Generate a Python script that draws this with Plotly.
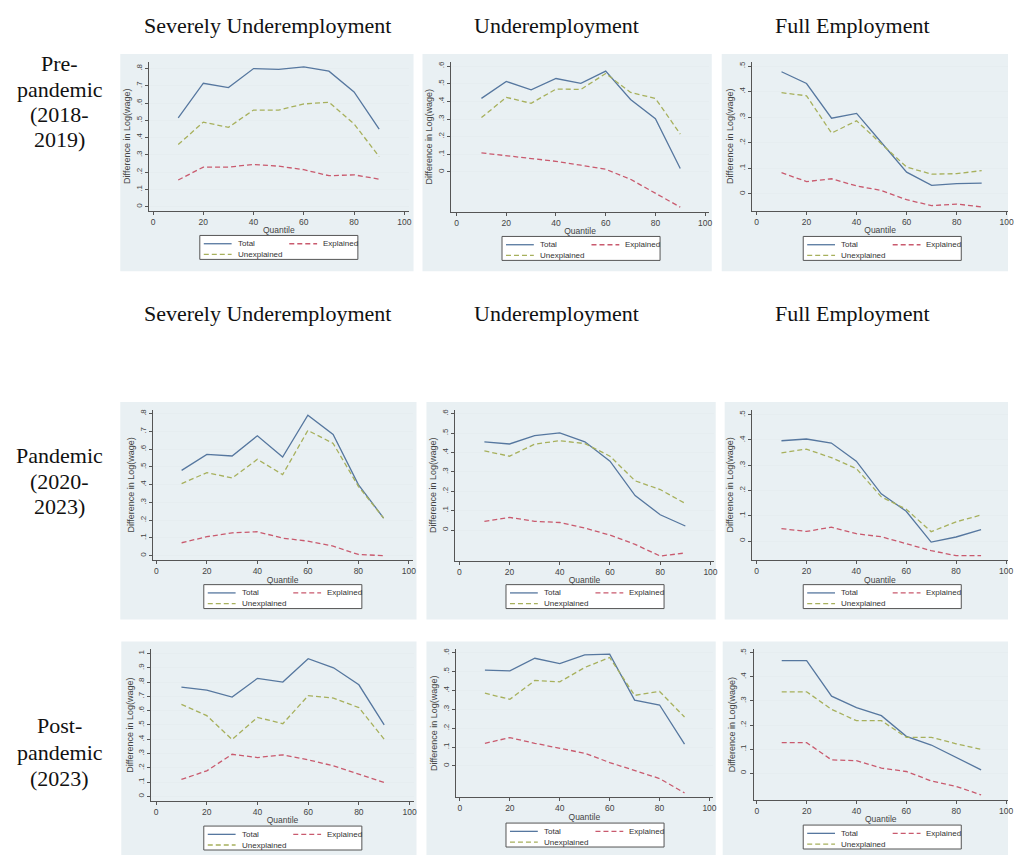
import plotly.graph_objects as go

# ---------------- data ----------------
quantiles = [10, 20, 30, 40, 50, 60, 70, 80, 90]

pre_su_total = [0.515, 0.715, 0.690, 0.800, 0.795, 0.810, 0.785, 0.665, 0.450]
pre_su_expl = [0.155, 0.230, 0.230, 0.245, 0.235, 0.215, 0.180, 0.185, 0.160]
pre_su_unexpl = [0.360, 0.490, 0.460, 0.560, 0.560, 0.595, 0.605, 0.480, 0.290]

pre_u_total = [0.417, 0.513, 0.466, 0.530, 0.502, 0.572, 0.411, 0.302, 0.019]
pre_u_expl = [0.108, 0.092, 0.079, 0.060, 0.038, 0.015, -0.042, -0.121, -0.200]
pre_u_unexpl = [0.308, 0.423, 0.389, 0.470, 0.468, 0.558, 0.451, 0.417, 0.215]

pre_fe_total = [0.478, 0.432, 0.296, 0.315, 0.200, 0.085, 0.033, 0.040, 0.042]
pre_fe_expl = [0.083, 0.048, 0.059, 0.031, 0.013, -0.023, -0.046, -0.040, -0.051]
pre_fe_unexpl = [0.396, 0.384, 0.238, 0.286, 0.195, 0.105, 0.077, 0.079, 0.091]

pan_su_total = [0.481, 0.571, 0.562, 0.676, 0.556, 0.792, 0.683, 0.401, 0.212]
pan_su_expl = [0.073, 0.107, 0.129, 0.135, 0.099, 0.082, 0.054, 0.007, 0.000]
pan_su_unexpl = [0.406, 0.468, 0.438, 0.543, 0.457, 0.706, 0.633, 0.391, 0.212]

pan_u_total = [0.455, 0.444, 0.487, 0.501, 0.455, 0.355, 0.178, 0.079, 0.021]
pan_u_expl = [0.045, 0.065, 0.045, 0.039, 0.010, -0.026, -0.074, -0.134, -0.118]
pan_u_unexpl = [0.408, 0.381, 0.443, 0.461, 0.446, 0.381, 0.254, 0.209, 0.137]

pan_fe_total = [0.397, 0.404, 0.388, 0.316, 0.187, 0.118, -0.004, 0.016, 0.045]
pan_fe_expl = [0.049, 0.038, 0.055, 0.029, 0.017, -0.011, -0.038, -0.058, -0.058]
pan_fe_unexpl = [0.349, 0.364, 0.330, 0.287, 0.175, 0.126, 0.037, 0.076, 0.103]

post_su_total = [0.765, 0.744, 0.695, 0.826, 0.800, 0.963, 0.900, 0.781, 0.500]
post_su_expl = [0.119, 0.179, 0.295, 0.272, 0.291, 0.256, 0.214, 0.158, 0.098]
post_su_unexpl = [0.644, 0.565, 0.398, 0.553, 0.509, 0.705, 0.688, 0.621, 0.400]

post_u_total = [0.508, 0.504, 0.571, 0.543, 0.589, 0.593, 0.349, 0.323, 0.115]
post_u_expl = [0.120, 0.150, 0.120, 0.093, 0.067, 0.018, -0.026, -0.067, -0.143]
post_u_unexpl = [0.386, 0.353, 0.453, 0.446, 0.522, 0.575, 0.374, 0.395, 0.259]

post_fe_total = [0.467, 0.467, 0.320, 0.272, 0.239, 0.153, 0.117, 0.065, 0.014]
post_fe_expl = [0.127, 0.127, 0.055, 0.052, 0.021, 0.007, -0.032, -0.055, -0.090]
post_fe_unexpl = [0.338, 0.338, 0.265, 0.218, 0.218, 0.149, 0.149, 0.122, 0.099]

column_titles = ["Severely Underemployment", "Underemployment", "Full Employment"]
row_labels = [["Pre-", "pandemic", "(2018-", "2019)"],
              ["Pandemic", "(2020-", "2023)"],
              ["Post-", "pandemic", "(2023)"]]
series_names = ["Total", "Explained", "Unexplained"]
x_ticks = [0, 20, 40, 60, 80, 100]
y_tick_max = [0.8, 0.6, 0.5, 0.8, 0.6, 0.5, 1.0, 0.6, 0.5]

panel_data = [
    (pre_su_total, pre_su_expl, pre_su_unexpl),
    (pre_u_total, pre_u_expl, pre_u_unexpl),
    (pre_fe_total, pre_fe_expl, pre_fe_unexpl),
    (pan_su_total, pan_su_expl, pan_su_unexpl),
    (pan_u_total, pan_u_expl, pan_u_unexpl),
    (pan_fe_total, pan_fe_expl, pan_fe_unexpl),
    (post_su_total, post_su_expl, post_su_unexpl),
    (post_u_total, post_u_expl, post_u_unexpl),
    (post_fe_total, post_fe_expl, post_fe_unexpl),
]

# ---------------- geometry (pixels) ----------------
W, H = 1014, 855
geom = [
    dict(box=(150, 411, 60, 209), xc=(154, 406.7), yc=(205.3, 66.7), bg=(121, 416, 52, 270), leg=(201, 234)),
    dict(box=(454, 713, 60, 210), xc=(459.3, 709.3), yc=(170.3, 64.3), bg=(425, 716, 52, 270), leg=(505, 235)),
    dict(box=(756.7, 1014, 60, 209), xc=(761, 1012.7), yc=(192.3, 64.3), bg=(726, 1014, 52, 270), leg=(808, 235)),
    dict(box=(153.7, 415, 408.7, 559.3), xc=(157.3, 411.3), yc=(555, 412.7), bg=(121, 419, 401, 619), leg=(205, 584)),
    dict(box=(458, 718, 408.7, 560), xc=(462, 714.7), yc=(529.3, 412.7), bg=(429, 720, 401, 619), leg=(509, 584)),
    dict(box=(756.3, 1014, 408.7, 559.3), xc=(761, 1012), yc=(540.3, 413.7), bg=(729, 1014, 401, 619), leg=(808, 584)),
    dict(box=(152.3, 416, 649, 800.7), xc=(157, 412), yc=(796.3, 653), bg=(122, 419, 641, 855), leg=(205, 826)),
    dict(box=(458.7, 717, 649, 797), xc=(462.7, 713.7), yc=(765.7, 652.3), bg=(429, 720, 641, 855), leg=(509, 823)),
    dict(box=(758, 1014, 649, 799.7), xc=(761.3, 1012), yc=(773, 652.3), bg=(727, 1014, 641, 855), leg=(808, 825)),
]


def fx(px):
    return px / W


def fy(py):
    return 1 - py / H


colors = {"Total": "#56779f", "Explained": "#c95a6e", "Unexplained": "#a7b05c"}
dashes = {"Total": "solid", "Explained": "5px,3px", "Unexplained": "5px,3px"}
AX = "#555555"
SANS = "Liberation Sans, Arial, sans-serif"
SERIF = "Liberation Serif, Times New Roman, serif"


def fmt(v):
    if abs(v) < 1e-9:
        return "0"
    if abs(v - 1) < 1e-9:
        return "1"
    return ("%.1f" % v).lstrip("0")


fig = go.Figure()
layout = dict(width=W, height=H, margin=dict(l=0, r=0, t=0, b=0),
              paper_bgcolor="white", plot_bgcolor="white", showlegend=False)
shapes = []
annotations = []

for i, (g, data) in enumerate(zip(geom, panel_data)):
    n = "" if i == 0 else str(i + 1)
    x0, x1, y0, y1 = g["box"]
    xp0, xp100 = g["xc"]
    ypz, ypt = g["yc"]
    ytop = y_tick_max[i]
    ux = 100 / (xp100 - xp0)
    xr = [0 - (xp0 - x0) * ux, 100 + (x1 - xp100) * ux]
    uy = ytop / (ypz - ypt)
    yr = [0 - (y1 - ypz) * uy, ytop + (ypt - y0) * uy]
    nt = int(round(ytop * 10))
    yticks = [k / 10 for k in range(nt + 1)]

    bx0, bx1, by0, by1 = g["bg"]
    shapes.append(dict(type="rect", xref="paper", yref="paper", layer="below",
                       x0=fx(bx0), x1=fx(bx1), y0=fy(by1), y1=fy(by0),
                       fillcolor="#e9f0f3", line=dict(width=0)))

    for name, vals in zip(series_names, data):
        fig.add_trace(go.Scatter(x=quantiles, y=vals, mode="lines", name=name,
                                 xaxis="x" + n, yaxis="y" + n, showlegend=False,
                                 line=dict(color=colors[name], width=1.3, dash=dashes[name])))

    layout["xaxis" + n] = dict(
        domain=[fx(x0), fx(x1)], anchor="y" + n, range=xr,
        tickvals=x_ticks, ticks="outside", ticklen=3, tickcolor=AX, tickwidth=1,
        showline=True, linecolor=AX, linewidth=1, showgrid=False, zeroline=False,
        ticklabeloverflow="allow",
        tickfont=dict(family=SANS, size=8.5, color="#444"),
        title=dict(text="Quantile", font=dict(family=SANS, size=8.5, color="#444"), standoff=1))
    layout["yaxis" + n] = dict(
        domain=[fy(y1), fy(y0)], anchor="x" + n, range=yr,
        tickvals=yticks, ticktext=[fmt(v) for v in yticks], tickangle=-90,
        ticks="outside", ticklen=3, tickcolor=AX, tickwidth=1,
        showline=True, linecolor=AX, linewidth=1, showgrid=True,
        gridcolor="#e6edf0", gridwidth=1, zeroline=False,
        tickfont=dict(family=SANS, size=8, color="#444"),
        title=dict(text="Difference in Log(wage)", font=dict(family=SANS, size=9, color="#444"), standoff=2))

    lx, ly = g["leg"]
    shapes.append(dict(type="rect", xref="paper", yref="paper", layer="above",
                       x0=fx(lx), x1=fx(lx + 159), y0=fy(ly + 24), y1=fy(ly),
                       fillcolor="white", line=dict(color="#555", width=1)))
    entries = [("Total", 4, 8.3), ("Explained", 90, 8.3), ("Unexplained", 4, 19)]
    for name, dx, dy in entries:
        shapes.append(dict(type="line", xref="paper", yref="paper", layer="above",
                           x0=fx(lx + dx), x1=fx(lx + dx + 28), y0=fy(ly + dy), y1=fy(ly + dy),
                           line=dict(color=colors[name], width=1.3, dash=dashes[name])))
        annotations.append(dict(text=name, xref="paper", yref="paper", x=fx(lx + dx + 32), y=fy(ly + dy),
                                xanchor="left", yanchor="middle", showarrow=False,
                                font=dict(family=SANS, size=8, color="#333")))

col_centers = [269.5, 560, 858]
for hy in [24, 312]:
    for cx, t in zip(col_centers, column_titles):
        annotations.append(dict(text=t, xref="paper", yref="paper", x=fx(cx), y=fy(hy),
                                xanchor="center", yanchor="middle", showarrow=False,
                                font=dict(family=SERIF, size=22, color="#111")))

row_line_y = [[62, 88, 113, 138], [455, 481, 506], [725, 752, 778]]
for lines, ys in zip(row_labels, row_line_y):
    for t, yy in zip(lines, ys):
        annotations.append(dict(text=t, xref="paper", yref="paper", x=fx(60), y=fy(yy),
                                xanchor="center", yanchor="middle", showarrow=False,
                                font=dict(family=SERIF, size=22, color="#111")))

layout["shapes"] = shapes
layout["annotations"] = annotations
fig.update_layout(**layout)
fig.write_html("out.html")
